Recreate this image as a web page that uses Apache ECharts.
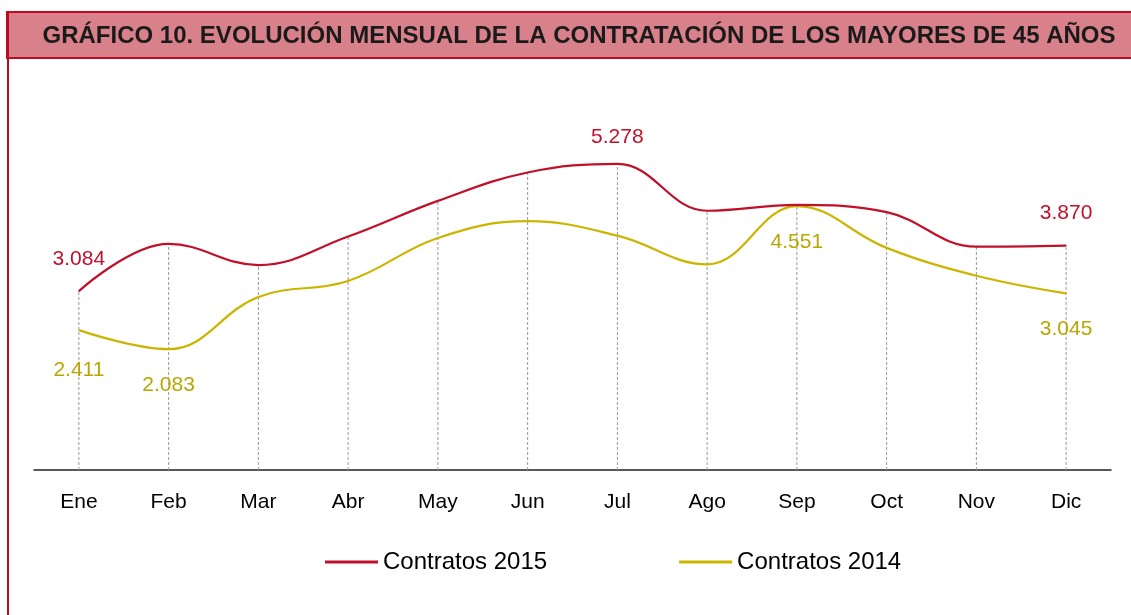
<!DOCTYPE html>
<html>
<head>
<meta charset="utf-8">
<script src="https://cdn.jsdelivr.net/npm/echarts@6/dist/echarts.min.js"></script>
<style>
  html, body { margin: 0; padding: 0; background: #fff; }
  #chart { width: 1131px; height: 615px; }
</style>
</head>
<body>
<div id="chart"></div>
<script>
// datos
const meses = ['Ene', 'Feb', 'Mar', 'Abr', 'May', 'Jun', 'Jul', 'Ago', 'Sep', 'Oct', 'Nov', 'Dic'];
const contratos2015 = [3084, 3900, 3534, 4025, 4640, 5130, 5278, 4470, 4570, 4445, 3850, 3870];
const contratos2014 = [2411, 2083, 2983, 3260, 4000, 4290, 4040, 3545, 4551, 3830, 3350, 3045];
// puntos con etiqueta visible
const etiq2015 = [0, 6, 11];
const etiq2014 = [0, 1, 8, 11];

const rojo = '#C0102A';
const amarillo = '#CBB500';

const fmt = (v) => String(v).replace(/\B(?=(\d{3})+(?!\d))/g, '.');

const chart = echarts.init(document.getElementById('chart'));

const serie = (vals, marcados, labelColor, pos, dist) => vals.map((v, i) => {
  if (!marcados.includes(i)) return v;
  return {
    value: v,
    label: {
      show: true, position: pos, distance: dist[i] !== undefined ? dist[i] : dist.d,
      color: labelColor, fontSize: 21, fontFamily: 'Liberation Sans, Arial',
      formatter: (p) => fmt(p.value)
    }
  };
});

chart.setOption({
  animation: false,
  graphic: [
    // marco izquierdo
    { type: 'rect', shape: { x: 7, y: 12, width: 2, height: 620 }, style: { fill: '#BE0A22' }, z: 10 },
    // banda del título
    { type: 'rect', shape: { x: 7, y: 12, width: 1130, height: 46 }, style: { fill: '#D9818A', stroke: '#BE0A22', lineWidth: 2 }, z: 0 }
  ],
  title: {
    text: 'GRÁFICO 10. EVOLUCIÓN MENSUAL DE LA CONTRATACIÓN DE LOS MAYORES DE 45 AÑOS',
    left: 574, top: 19, textAlign: 'center',
    textStyle: { fontFamily: 'Liberation Sans, Arial', fontWeight: 'bold', fontSize: 24, color: '#1a1a1a' }
  },
  legend: {
    left: 320, top: 545,
    itemGap: 132, itemWidth: 53, itemHeight: 3,
    icon: 'rect',
    textStyle: { fontFamily: 'Liberation Sans, Arial', fontSize: 24, color: '#000' },
    data: ['Contratos 2015', 'Contratos 2014']
  },
  grid: { left: 34, right: 20, top: 122, bottom: 145 },
  xAxis: {
    type: 'category', data: meses, boundaryGap: true,
    axisLine: { lineStyle: { color: '#222', width: 1.5 } },
    axisTick: { show: false },
    axisLabel: { color: '#000', fontSize: 21, margin: 22, fontFamily: 'Liberation Sans, Arial' }
  },
  yAxis: { type: 'value', min: 0, max: 6000, show: false, splitLine: { show: false } },
  series: [
    {
      // líneas de caída discontinuas
      type: 'custom', z: 1, silent: true,
      data: meses.map((m, i) => [i, Math.max(contratos2015[i], contratos2014[i])]),
      renderItem: (params, api) => {
        const a = api.coord([api.value(0), 0]);
        const b = api.coord([api.value(0), api.value(1)]);
        return {
          type: 'line',
          shape: { x1: a[0], y1: a[1], x2: b[0], y2: b[1] },
          style: { stroke: '#999', lineWidth: 1, lineDash: [3, 2] }
        };
      }
    },
    {
      name: 'Contratos 2015', type: 'line', z: 3, smooth: 0.4,
      symbol: 'circle', symbolSize: 1, showSymbol: true, color: rojo,
      lineStyle: { color: rojo, width: 2.2 },
      data: serie(contratos2015, etiq2015, rojo, 'top', { d: 21, 6: 16 })
    },
    {
      name: 'Contratos 2014', type: 'line', z: 2, smooth: 0.4,
      symbol: 'circle', symbolSize: 1, showSymbol: true, color: amarillo,
      lineStyle: { color: amarillo, width: 2.2 },
      data: serie(contratos2014, etiq2014, '#BBA500', 'bottom', { d: 25, 0: 29 })
    }
  ]
});

window.addEventListener('resize', () => chart.resize());
</script>
</body>
</html>
